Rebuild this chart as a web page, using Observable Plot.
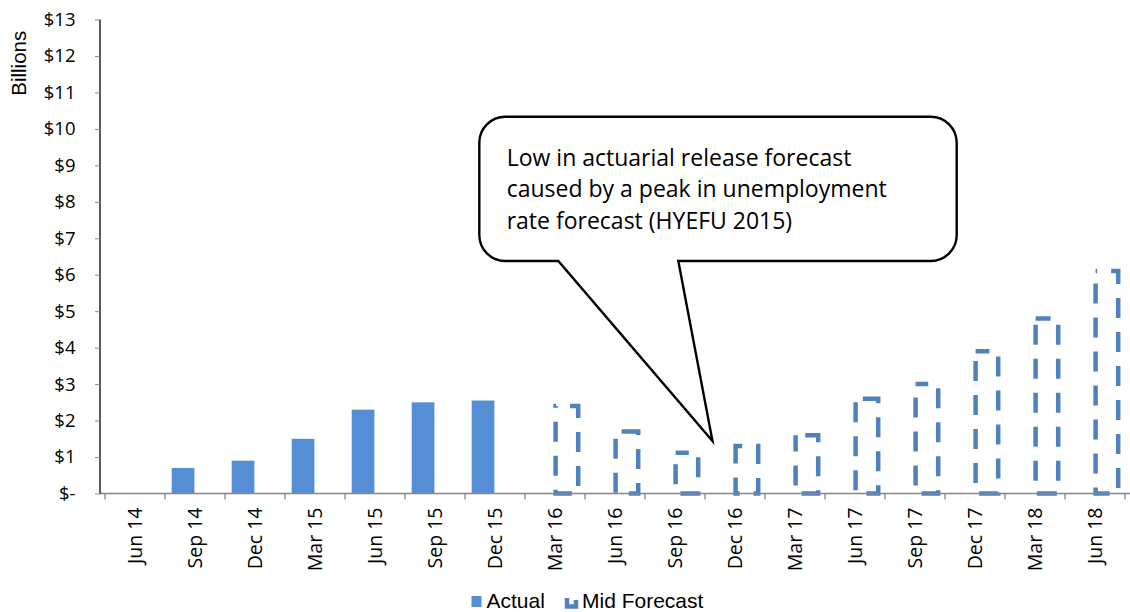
<!DOCTYPE html>
<html>
<head>
<meta charset="utf-8">
<script src="https://cdn.jsdelivr.net/npm/d3@7"></script>
<script src="https://cdn.jsdelivr.net/npm/@observablehq/plot@0.6"></script>
<style>
  body { margin: 0; background: #fff; }
  #chart svg { display: block; }
</style>
</head>
<body>
<div id="chart"></div>
<script>
// Quarterly actuarial release, $ billions
const quarters = ["Jun 14", "Sep 14", "Dec 14", "Mar 15", "Jun 15", "Sep 15", "Dec 15",
  "Mar 16", "Jun 16", "Sep 16", "Dec 16", "Mar 17", "Jun 17", "Sep 17", "Dec 17", "Mar 18", "Jun 18"];
const actualQuarters = ["Sep 14", "Dec 14", "Mar 15", "Jun 15", "Sep 15", "Dec 15"];
const actualValues = [0.7, 0.9, 1.5, 2.3, 2.5, 2.55];
const forecastQuarters = ["Mar 16", "Jun 16", "Sep 16", "Dec 16", "Mar 17", "Jun 17",
  "Sep 17", "Dec 17", "Mar 18", "Jun 18"];
const forecastValues = [2.4, 1.7, 1.12, 1.3, 1.6, 2.6, 3.0, 3.9, 4.8, 6.1];
const yTicks = [0, 1, 2, 3, 4, 5, 6, 7, 8, 9, 10, 11, 12, 13];
const seriesNames = ["Actual", "Mid Forecast"];
const calloutLines = [
  "Low in actuarial release forecast",
  "caused by a peak in unemployment",
  "rate forecast (HYEFU 2015)"
];
// the callout points at the dip between Sep 16 and Dec 16
const calloutTarget = { quarter: "Dec 16", value: 1.44 };

const actual = actualQuarters.map((q, i) => ({ q, v: actualValues[i] }));
const forecast = forecastQuarters.map((q, i) => ({ q, v: forecastValues[i] }));

const ACTUAL_FILL = "#558ED5";
const FORECAST_STROKE = "#4F81BD";
const AXIS_GREY = "#868686";
const BODY_FONT = "'Open Sans', sans-serif";
const LEGEND_FONT = "'Liberation Sans', Arial, sans-serif";

// category boundary ticks, baseline and vertical axis line
function axisLines(index, { x, y }, values, dims) {
  const g = d3.create("svg:g");
  const y0 = y(0);
  const bw = x.bandwidth();
  g.append("line")
    .attr("x1", dims.marginLeft).attr("x2", dims.width - dims.marginRight)
    .attr("y1", y0).attr("y2", y0)
    .attr("stroke", AXIS_GREY).attr("stroke-width", 1.5);
  const edges = quarters.map(q => x(q)).concat([x(quarters[quarters.length - 1]) + bw]);
  for (const e of edges) {
    g.append("line")
      .attr("x1", e).attr("x2", e).attr("y1", y0).attr("y2", y0 + 6)
      .attr("stroke", AXIS_GREY).attr("stroke-width", 1.3);
  }
  g.append("line")
    .attr("x1", dims.marginLeft).attr("x2", dims.marginLeft)
    .attr("y1", y(yTicks[yTicks.length - 1])).attr("y2", y0)
    .attr("stroke", "#000").attr("stroke-width", 1.3);
  g.append("text")
    .attr("transform", `translate(18.5,${y(11.8)}) rotate(-90)`)
    .attr("text-anchor", "middle").attr("dominant-baseline", "central")
    .attr("font-family", LEGEND_FONT)
    .attr("font-size", 20.5).attr("fill", "#000")
    .text("Billions");
  return g.node();
}

// speech-bubble annotation
function callout(index, { x, y }) {
  const L = 479.3, R = 956.7, T = 116.7, B = 261, r = 26;
  const baseA = 558.3, baseB = 678.3;
  const tipX = x(calloutTarget.quarter) + 7.5;
  const tipY = y(calloutTarget.value);
  const g = d3.create("svg:g");
  const p = `M${L + r},${T} H${R - r} A${r},${r} 0 0 1 ${R},${T + r} V${B - r}` +
    ` A${r},${r} 0 0 1 ${R - r},${B} H${baseB} L${tipX},${tipY} L${baseA},${B}` +
    ` H${L + r} A${r},${r} 0 0 1 ${L},${B - r} V${T + r} A${r},${r} 0 0 1 ${L + r},${T} Z`;
  g.append("path").attr("d", p).attr("fill", "#fff")
    .attr("stroke", "#000").attr("stroke-width", 2.4).attr("stroke-linejoin", "miter");
  const t = g.append("text")
    .attr("font-family", BODY_FONT).attr("font-size", 23).attr("fill", "#000")
    .attr("text-anchor", "start");
  calloutLines.forEach((line, i) => {
    t.append("tspan").attr("x", 506.7).attr("y", 166 + i * 31.4).text(line);
  });
  return g.node();
}

const chart = Plot.plot({
  width: 1130,
  height: 586,
  marginLeft: 100,
  marginRight: 0,
  marginTop: 19.5,
  marginBottom: 92.5,
  style: { fontFamily: BODY_FONT, fontSize: "18.5px", color: "#000", background: "#fff", overflow: "visible" },
  x: { type: "band", domain: quarters, paddingInner: 0, paddingOuter: 0, label: null },
  y: { domain: [0, 13], label: null },
  marks: [
    Plot.barY(actual, { x: "q", y: "v", fill: ACTUAL_FILL, insetLeft: 6.7, insetRight: 30.6 }),
    Plot.barY(forecast, {
      x: "q", y: "v", fill: "none", stroke: FORECAST_STROKE, strokeWidth: 4.5,
      strokeDasharray: "20,14", insetLeft: 30.6, insetRight: 6.8, className: "forecast-bars"
    }),
    axisLines,
    Plot.axisY({
      ticks: yTicks, tickSize: 5, tickPadding: 20, stroke: AXIS_GREY, fill: "#000",
      tickFormat: d => d === 0 ? "$-" : "$" + d, label: null
    }),
    Plot.axisX({ tickSize: 0, tickRotate: -90, tickPadding: 13.5, fill: "#000", fontSize: 19.5, label: null }),
    callout
  ]
});

// start each dashed outline from its bottom-left corner going up
d3.select(chart).selectAll(".forecast-bars rect").each(function () {
  const h = +this.getAttribute("height");
  this.setAttribute("stroke-dashoffset", h);
});

document.getElementById("chart").appendChild(chart);

// legend below the chart
const legend = d3.select("#chart").append("svg")
  .attr("width", 1130).attr("height", 26)
  .attr("font-family", LEGEND_FONT).attr("font-size", 21);
legend.append("rect").attr("x", 471.5).attr("y", 10).attr("width", 10).attr("height", 11)
  .attr("fill", ACTUAL_FILL);
legend.append("text").attr("x", 486.5).attr("y", 21.5).text(seriesNames[0]);
legend.append("path").attr("d", "M567,12 V20.5 H576 V14")
  .attr("fill", "none").attr("stroke", FORECAST_STROKE).attr("stroke-width", 4.5);
legend.append("text").attr("x", 582).attr("y", 21.5).text(seriesNames[1]);
</script>
</body>
</html>
